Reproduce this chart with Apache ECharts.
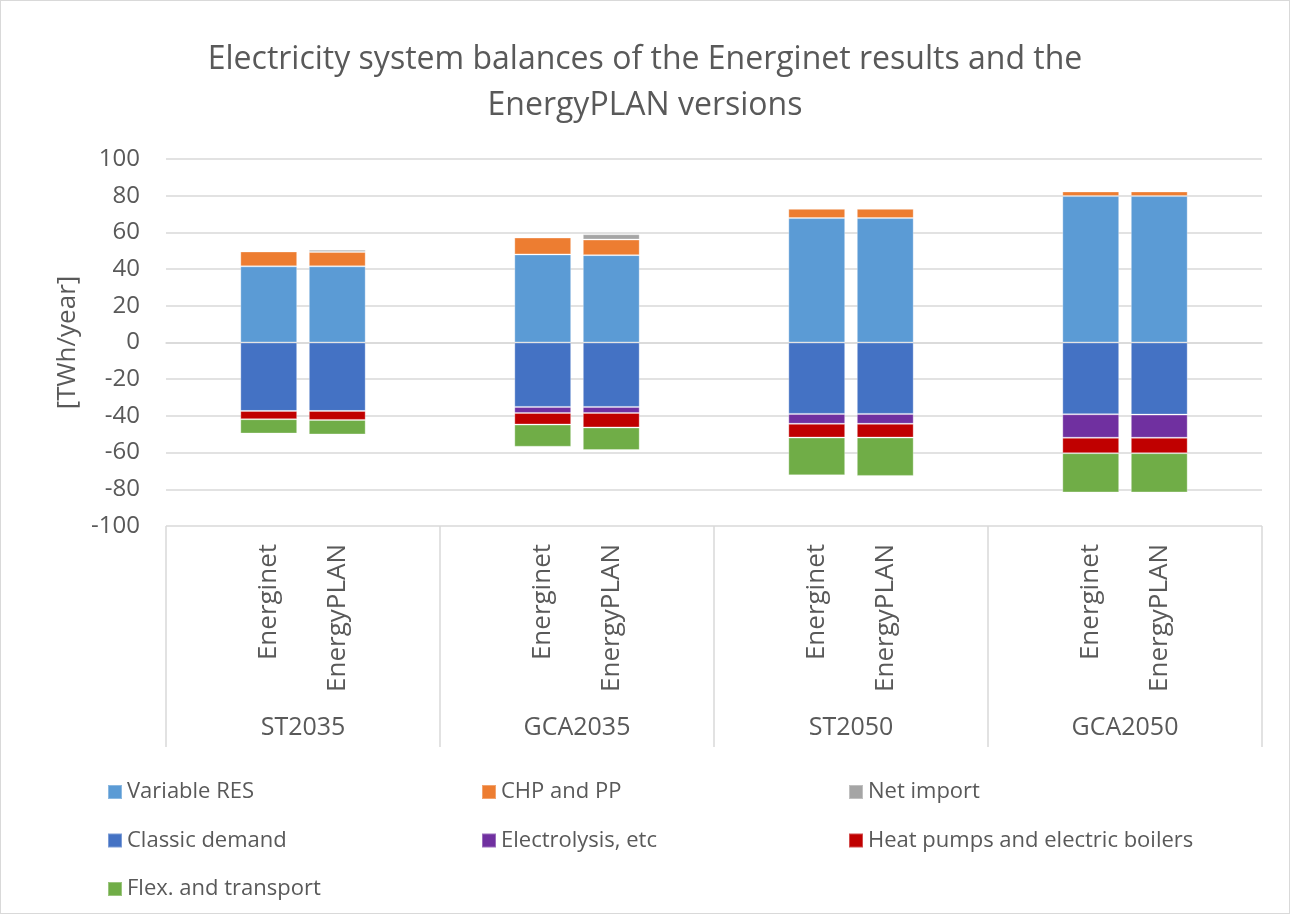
<!DOCTYPE html>
<html>
<head>
<meta charset="utf-8">
<script src="https://cdn.jsdelivr.net/npm/echarts@6/dist/echarts.min.js"></script>
<style>
  html, body { margin: 0; padding: 0; background: #fff; }
  #main { width: 1290px; height: 914px; box-sizing: border-box; border: 1px solid #d9d9d9; }
</style>
</head>
<body>
<div id="main"></div>
<script>
// scenarios and model versions
const groups = ['ST2035', 'GCA2035', 'ST2050', 'GCA2050'];
const versions = ['Energinet', 'EnergyPLAN'];

// TWh/year, order: ST2035 Energinet, ST2035 EnergyPLAN, GCA2035 ..., GCA2050 EnergyPLAN
const variableRes = [41.5, 41.5, 48.0, 47.6, 67.8, 67.8, 79.8, 79.8];
const chpPp = [8.1, 7.8, 9.2, 8.5, 5.1, 5.1, 2.5, 2.5];
const netImport = [0, 1.2, 0, 2.9, 0, 0, 0, 0];
const classicDemand = [-37.3, -37.3, -35.1, -35.1, -38.9, -38.9, -39.1, -39.3];
const electrolysis = [0, 0, -3.3, -3.3, -5.4, -5.4, -12.8, -12.6];
const heatPumps = [-4.5, -4.9, -6.3, -7.9, -7.5, -7.5, -8.4, -8.4];
const flexTransport = [-7.8, -7.9, -12.1, -12.3, -20.6, -20.9, -21.4, -21.4];

const yTicks = { min: -100, max: 100, step: 20 };

// every group has an empty slot either side of the two bars (like the excel sheet)
const categories = [];
groups.forEach(function () {
  categories.push('', versions[0], versions[1], '');
});
function spread(arr) {
  const out = [];
  for (let g = 0; g < groups.length; g++) {
    out.push(null, arr[g * 2], arr[g * 2 + 1], null);
  }
  return out;
}

const seriesDefs = [
  { name: 'Variable RES', data: variableRes, color: '#5B9BD5' },
  { name: 'CHP and PP', data: chpPp, color: '#ED7D31' },
  { name: 'Net import', data: netImport, color: '#A5A5A5' },
  { name: 'Classic demand', data: classicDemand, color: '#4472C4' },
  { name: 'Electrolysis, etc', data: electrolysis, color: '#7030A0' },
  { name: 'Heat pumps and electric boilers', data: heatPumps, color: '#C00000' },
  { name: 'Flex. and transport', data: flexTransport, color: '#70AD47' }
];

const txt = '#595959';
const font = '"Open Sans", sans-serif';

function legendCol(left, names) {
  return {
    left: left, top: 775, orient: 'vertical', itemGap: 26.5,
    itemWidth: 14, itemHeight: 14, icon: 'rect',
    selectedMode: false,
    textStyle: { color: txt, fontSize: 22, fontFamily: font, lineHeight: 22 },
    data: names
  };
}

const chart = echarts.init(document.getElementById('main'));
const option = {
  backgroundColor: '#ffffff',
  animation: false,
  title: {
    text: 'Electricity system balances of the Energinet results and the\nEnergyPLAN versions',
    left: 'center', top: 31,
    textStyle: { color: txt, fontSize: 32, fontWeight: 'normal', fontFamily: font, lineHeight: 46 }
  },
  legend: [
    legendCol(101, ['Variable RES', 'Classic demand', 'Flex. and transport']),
    legendCol(475, ['CHP and PP', 'Electrolysis, etc']),
    legendCol(842, ['Net import', 'Heat pumps and electric boilers'])
  ],
  grid: { left: 165, right: 27, top: 158, bottom: 387 },
  xAxis: [{
    type: 'category',
    data: categories,
    axisLine: { lineStyle: { color: '#d9d9d9', width: 1.5 } },
    axisTick: { show: false },
    axisLabel: { interval: 0, rotate: 90, margin: 18, color: txt, fontSize: 26, fontFamily: font }
  }, {
    type: 'category',
    position: 'bottom',
    data: groups,
    axisLine: { show: false },
    axisTick: { show: true, length: 221, lineStyle: { color: '#d9d9d9', width: 1.5 } },
    axisLabel: { margin: 189, color: txt, fontSize: 25, fontFamily: font }
  }],
  yAxis: {
    type: 'value',
    min: yTicks.min, max: yTicks.max, interval: yTicks.step,
    name: '[TWh/year]',
    nameLocation: 'middle', nameRotate: 90, nameGap: 80,
    nameTextStyle: { color: txt, fontSize: 26, fontFamily: font },
    axisLine: { show: false },
    axisTick: { show: false },
    axisLabel: { margin: 26, color: txt, fontSize: 24, fontFamily: font },
    splitLine: { lineStyle: { color: '#d9d9d9', width: 1.5 } }
  },
  series: seriesDefs.map(function (s) {
    return {
      name: s.name,
      type: 'bar',
      stack: 'balance',
      barWidth: '83%',
      data: spread(s.data),
      itemStyle: { color: s.color, borderColor: 'rgba(255,255,255,0.3)', borderWidth: 1 }
    };
  })
};
chart.setOption(option);
</script>
</body>
</html>
